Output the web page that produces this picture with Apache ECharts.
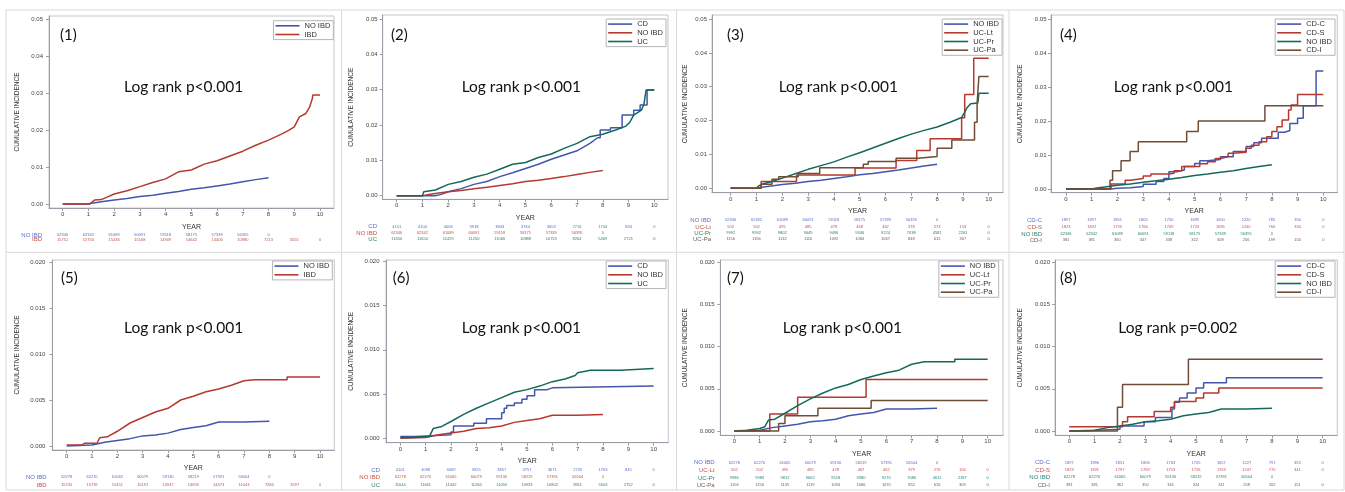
<!DOCTYPE html>
<html><head><meta charset="utf-8">
<script src="https://cdn.jsdelivr.net/npm/echarts@6/dist/echarts.min.js"></script>
<style>html,body{margin:0;padding:0;background:#fff}#c{width:1345px;height:492px}</style>
</head><body><div id="c"></div><script>
// ---------- DATA ----------
const YEARS = [0,1,2,3,4,5,6,7,8,9,10];
const Y_TICKS_TOP = [0,0.01,0.02,0.03,0.04,0.05];
const Y_TICKS_BOTTOM = [0,0.005,0.01,0.015,0.02];

// top row curves (0.05 scale)
const NOIBD_TOP = [[0,0],[1,0],[1.2,0.0003],[1.5,0.0006],[2,0.0011],[2.5,0.0015],[3,0.002],[3.5,0.0024],[4,0.0029],[4.5,0.0034],[5,0.004],[5.5,0.0044],[6,0.0049],[6.5,0.0054],[7,0.006],[7.5,0.0066],[8,0.0071]];
const P1_IBD = [[0,0],[1.05,0],[1.15,0.0006],[1.25,0.0011],[1.5,0.0012],[1.7,0.0018],[2,0.0027],[2.5,0.0036],[3,0.0047],[3.5,0.0058],[4,0.0068],[4.5,0.0087],[5,0.0092],[5.5,0.0108],[6,0.0117],[6.5,0.013],[7,0.0143],[7.5,0.0159],[8,0.0173],[8.5,0.0189],[8.8,0.02],[9,0.0209],[9.2,0.0236],[9.45,0.0245],[9.6,0.0263],[9.7,0.0285],[9.72,0.0295],[10,0.0295]];
const P2_CD = [[0,0],[1.5,0],[1.7,0.0003],[2,0.0011],[2.5,0.002],[3,0.0032],[3.5,0.004],[4,0.0054],[4.5,0.0065],[5,0.0077],[5.5,0.0089],[6,0.0103],[6.5,0.0115],[7,0.0127],[7.5,0.0148],[7.8,0.0164],[7.9,0.0164],[7.9,0.0186],[8.3,0.0186],[8.3,0.0192],[8.75,0.0192],[8.75,0.0228],[9.2,0.0228],[9.2,0.0242],[9.45,0.0242],[9.45,0.0257],[9.72,0.0257],[9.72,0.0299],[10,0.0299]];
const P2_UC = [[0,0],[1,0],[1.05,0.0011],[1.5,0.0016],[2,0.0032],[2.5,0.004],[3,0.0052],[3.5,0.0061],[4,0.0075],[4.5,0.0089],[5,0.0094],[5.5,0.0108],[6,0.0118],[6.5,0.0134],[7,0.0148],[7.5,0.0167],[8,0.0174],[8.5,0.0186],[8.9,0.0197],[9.05,0.0208],[9.2,0.0228],[9.5,0.0242],[9.6,0.026],[9.68,0.0299],[10,0.0299]];
const P3_UCLT = [[0,0],[1.18,0.002],[2.55,0.0039],[4.82,0.006],[6.41,0.0082],[7.21,0.0112],[7.73,0.0146],[8.95,0.0208],[9.07,0.0277],[9.42,0.0384],[10,0.0384]];
const P3_UCPR = [[0,0],[1,0],[1.1,0.0008],[1.3,0.0014],[1.6,0.002],[2,0.003],[2.5,0.0043],[3,0.0056],[3.5,0.0067],[4,0.0078],[4.5,0.0092],[5,0.0105],[5.5,0.0119],[6,0.0133],[6.5,0.0147],[7,0.016],[7.5,0.0171],[8,0.0181],[8.5,0.0195],[8.95,0.0209],[9.05,0.0222],[9.15,0.0237],[9.3,0.025],[9.58,0.0252],[9.62,0.0281],[10,0.0281]];
const P3_UCPA = [[0,0],[1.18,0.0012],[1.6,0.0027],[1.86,0.0034],[2.62,0.0044],[3.45,0.0061],[5.14,0.0071],[5.33,0.0079],[6.41,0.0089],[7.27,0.0094],[8.0,0.0118],[8.57,0.0143],[9.45,0.0195],[9.55,0.0251],[9.62,0.033],[10,0.033]];
const P4_CDC = [[0,0],[1.75,0.0002],[2,0.0004],[2.5,0.0007],[3,0.0014],[3.5,0.0022],[3.8,0.0031],[4,0.0051],[4.3,0.0056],[4.6,0.0066],[5,0.0075],[5.2,0.0083],[5.5,0.0087],[6,0.0095],[6.5,0.011],[7,0.0125],[7.3,0.0136],[7.6,0.0149],[8.25,0.0167],[8.5,0.0172],[8.7,0.0193],[9.0,0.0208],[9.22,0.0245],[9.72,0.0347],[10,0.0347]];
const P4_CDS = [[0,0],[1.75,0.0015],[2.3,0.0026],[2.5,0.0031],[3,0.0038],[3.3,0.0044],[4,0.0046],[4.2,0.0054],[4.5,0.0066],[5.2,0.0074],[5.5,0.008],[5.8,0.009],[6,0.0095],[6.3,0.0105],[6.5,0.0108],[7,0.012],[7.2,0.0129],[7.5,0.0139],[7.8,0.0154],[8.0,0.0169],[8.2,0.0183],[8.4,0.0203],[8.65,0.0232],[8.75,0.0247],[9.0,0.0278],[10,0.0278]];
const P4_CDI = [[0,0],[1.71,0.0026],[1.81,0.0054],[2.14,0.0083],[2.49,0.011],[2.81,0.0139],[4.69,0.0169],[5.14,0.02],[7.73,0.0245],[10,0.0245]];

// bottom row curves (0.020 scale)
const NOIBD_BOTTOM = [[0,0],[1,0.0001],[1.5,0.0004],[2,0.0006],[2.5,0.0008],[3,0.0011],[3.5,0.0012],[4,0.0014],[4.5,0.0018],[5,0.002],[5.5,0.0022],[6,0.0026],[7,0.0026],[8,0.0027]];
const P5_IBD = [[0,0.0001],[0.6,0.0001],[0.7,0.0003],[1.2,0.0003],[1.3,0.0009],[1.6,0.001],[2,0.0016],[2.5,0.0025],[3,0.0031],[3.5,0.0037],[4,0.0041],[4.5,0.005],[5,0.0054],[5.5,0.0059],[6,0.0062],[6.5,0.0066],[7,0.0071],[7.4,0.0072],[8.7,0.0072],[8.7,0.0075],[10,0.0075]];
const P6_CD = [[0,0.0002],[0.6,0.0004],[2,0.0007],[2.1,0.0014],[2.9,0.0017],[3.4,0.0022],[4.0,0.0029],[4.1,0.0034],[4.2,0.0037],[4.5,0.004],[4.8,0.0044],[5.0,0.0048],[5.3,0.0055],[5.8,0.0057],[6.0,0.0059],[10,0.0059]];
const P6_UC = [[0,0.0001],[0.5,0.0001],[0.55,0.0002],[1.15,0.0002],[1.2,0.0005],[1.3,0.0011],[1.6,0.0013],[2,0.0019],[2.5,0.0027],[3,0.0034],[3.5,0.004],[4,0.0046],[4.5,0.0052],[5,0.0055],[5.5,0.0059],[6,0.0064],[6.5,0.0067],[6.9,0.0071],[7,0.0074],[7.5,0.0077],[8.7,0.0077],[8.7,0.0079],[10,0.0079]];
const P7_UCLT = [[0,0],[1.4,0.002],[2.5,0.004],[5.2,0.0061],[10,0.0061]];
const P7_UCPR = [[0,0],[0.5,0.0001],[1,0.0003],[1.2,0.0005],[1.35,0.0013],[1.6,0.0014],[2,0.0021],[2.5,0.003],[3,0.0038],[3.5,0.0045],[4,0.0051],[4.5,0.0055],[5,0.0061],[5.5,0.0065],[6,0.0069],[6.5,0.0072],[7,0.0079],[7.5,0.0082],[8.7,0.0082],[8.7,0.0085],[10,0.0085]];
const P7_UCPA = [[0,0],[1.75,0.0009],[2.0,0.0018],[3.3,0.0027],[5.4,0.0036],[10,0.0036]];
const P8_CDC = [[0,0],[0.6,0.0002],[2.0,0.0006],[2.95,0.0011],[3.4,0.0016],[4.05,0.0026],[4.15,0.0034],[4.35,0.0039],[4.65,0.0045],[5.0,0.0051],[5.3,0.0057],[6.2,0.0063],[10,0.0063]];
const P8_CDS = [[0,0.0005],[2.1,0.0011],[2.3,0.0017],[3.35,0.0023],[4.0,0.0028],[4.15,0.0035],[5.0,0.0039],[5.3,0.0045],[5.9,0.0051],[10,0.0051]];
const P8_CDI = [[0,0],[1.9,0.0028],[2.1,0.0055],[4.7,0.0085],[10,0.0085]];

// numbers at risk
const R1_NOIBD = [62346,62342,61089,60091,59118,58175,57339,56395,0];
const R1_IBD = [15751,15750,15436,15168,14909,14642,14406,10980,7213,3555,0];
const R2_CD = [4101,4100,4006,3918,3843,3764,3653,2716,1744,834,0];
const R2_UC = [11650,11650,11429,11250,11066,10888,10753,8264,5469,2721,0];
const R3_UCLT = [502,502,495,485,478,468,462,378,273,153,0];
const R3_UCPR = [9992,9992,9802,9649,9496,9346,9224,7038,4581,2261,0];
const R3_UCPA = [1156,1156,1132,1116,1092,1084,1067,848,615,307,0];
const R4_CDC = [1897,1897,1851,1805,1756,1699,1650,1220,785,350,0];
const R4_CDS = [1823,1822,1795,1766,1749,1723,1695,1240,760,334,0];
const R4_CDI = [381,381,360,347,338,322,308,256,199,150,0];
const R5_NOIBD = [62278,62270,61065,60079,59130,58219,57391,56504,0];
const R5_IBD = [15745,15739,15451,15191,14947,14690,14473,11043,7266,3597,0];
const R6_CD = [4101,4098,4009,3925,3857,3757,3671,2732,1763,845,0];
const R6_UC = [11644,11641,11442,11266,11090,10933,10802,8311,5503,2752,0];
const R7_UCLT = [502,502,495,485,478,467,462,379,276,156,0];
const R7_UCPR = [9986,9983,9812,9662,9518,9380,9270,7080,4611,2287,0];
const R7_UCPA = [1156,1156,1135,1119,1094,1086,1070,852,616,309,0];
const R8_CDC = [1897,1896,1851,1806,1763,1705,1657,1227,791,353,0];
const R8_CDS = [1823,1821,1797,1769,1753,1726,1703,1247,770,341,0];
const R8_CDI = [381,381,361,350,341,324,311,258,202,151,0];

const TAGS = ['(1)','(2)','(3)','(4)','(5)','(6)','(7)','(8)'];
const LOGRANK = ['Log rank p<0.001','Log rank p<0.001','Log rank p<0.001','Log rank p<0.001','Log rank p<0.001','Log rank p<0.001','Log rank p<0.001','Log rank p=0.002'];

// ---------- PANEL DEFINITIONS ----------
const PANELS = [
 {yMax:0.05, yTicks:Y_TICKS_TOP, dec:2,
  series:[{name:'NO IBD',data:NOIBD_TOP,color:'blue'},{name:'IBD',data:P1_IBD,color:'red'}],
  risk:[{name:'NO IBD',values:R1_NOIBD,color:'blue'},{name:'IBD',values:R1_IBD,color:'red'}]},
 {yMax:0.05, yTicks:Y_TICKS_TOP, dec:2,
  series:[{name:'CD',data:P2_CD,color:'blue'},{name:'NO IBD',data:NOIBD_TOP,color:'red'},{name:'UC',data:P2_UC,color:'green'}],
  risk:[{name:'CD',values:R2_CD,color:'blue'},{name:'NO IBD',values:R1_NOIBD,color:'red'},{name:'UC',values:R2_UC,color:'green'}]},
 {yMax:0.05, yTicks:Y_TICKS_TOP, dec:2,
  series:[{name:'NO IBD',data:NOIBD_TOP,color:'blue'},{name:'UC-Lt',data:P3_UCLT,color:'red',step:true},{name:'UC-Pr',data:P3_UCPR,color:'green'},{name:'UC-Pa',data:P3_UCPA,color:'brown',step:true}],
  risk:[{name:'NO IBD',values:R1_NOIBD,color:'blue'},{name:'UC-Lt',values:R3_UCLT,color:'red'},{name:'UC-Pr',values:R3_UCPR,color:'green'},{name:'UC-Pa',values:R3_UCPA,color:'brown'}]},
 {yMax:0.05, yTicks:Y_TICKS_TOP, dec:2,
  series:[{name:'CD-C',data:P4_CDC,color:'blue',step:true},{name:'CD-S',data:P4_CDS,color:'red',step:true},{name:'NO IBD',data:NOIBD_TOP,color:'green'},{name:'CD-I',data:P4_CDI,color:'brown',step:true}],
  risk:[{name:'CD-C',values:R4_CDC,color:'blue'},{name:'CD-S',values:R4_CDS,color:'red'},{name:'NO IBD',values:R1_NOIBD,color:'green'},{name:'CD-I',values:R4_CDI,color:'brown'}]},
 {yMax:0.02, yTicks:Y_TICKS_BOTTOM, dec:3,
  series:[{name:'NO IBD',data:NOIBD_BOTTOM,color:'blue'},{name:'IBD',data:P5_IBD,color:'red'}],
  risk:[{name:'NO IBD',values:R5_NOIBD,color:'blue'},{name:'IBD',values:R5_IBD,color:'red'}]},
 {yMax:0.02, yTicks:Y_TICKS_BOTTOM, dec:3,
  series:[{name:'CD',data:P6_CD,color:'blue',step:true},{name:'NO IBD',data:NOIBD_BOTTOM,color:'red'},{name:'UC',data:P6_UC,color:'green'}],
  risk:[{name:'CD',values:R6_CD,color:'blue'},{name:'NO IBD',values:R5_NOIBD,color:'red'},{name:'UC',values:R6_UC,color:'green'}]},
 {yMax:0.02, yTicks:Y_TICKS_BOTTOM, dec:3,
  series:[{name:'NO IBD',data:NOIBD_BOTTOM,color:'blue'},{name:'UC-Lt',data:P7_UCLT,color:'red',step:true},{name:'UC-Pr',data:P7_UCPR,color:'green'},{name:'UC-Pa',data:P7_UCPA,color:'brown',step:true}],
  risk:[{name:'NO IBD',values:R5_NOIBD,color:'blue'},{name:'UC-Lt',values:R7_UCLT,color:'red'},{name:'UC-Pr',values:R7_UCPR,color:'green'},{name:'UC-Pa',values:R7_UCPA,color:'brown'}]},
 {yMax:0.02, yTicks:Y_TICKS_BOTTOM, dec:3,
  series:[{name:'CD-C',data:P8_CDC,color:'blue',step:true},{name:'CD-S',data:P8_CDS,color:'red',step:true},{name:'NO IBD',data:NOIBD_BOTTOM,color:'green'},{name:'CD-I',data:P8_CDI,color:'brown',step:true}],
  risk:[{name:'CD-C',values:R8_CDC,color:'blue'},{name:'CD-S',values:R8_CDS,color:'red'},{name:'NO IBD',values:R5_NOIBD,color:'green'},{name:'CD-I',values:R8_CDI,color:'brown'}]}
];

// ---------- LAYOUT (pixels) ----------
const GEOM = [
 {L:49,T:16,R:334,B:208,x0:62.7,x10:320,y0:204,yT:19.3,yearY:227,rows:[235,239.5],yNameX:17,yLabM:6,rowGap:7,legR:1011.7,legT:20.7,tag:[60,35],lr:[124,87]},
 {L:382.7,T:15,R:668,B:199.3,x0:396.7,x10:654.3,y0:195.7,yT:19,yearY:218,rows:[226.7,233.3,239],yNameX:351,yLabM:5,rowGap:5.7,legR:679,legT:19,tag:[391,35],lr:[461.7,87]},
 {L:712,T:15,R:1003,B:192.7,x0:730.7,x10:988.7,y0:188.3,yT:19,yearY:210.7,rows:[220,227.3,233.3,239.3],yNameX:685,yLabM:5,rowGap:1,legR:343,legT:19,tag:[727,35],lr:[778.7,87]},
 {L:1051,T:15,R:1337.3,B:192.7,x0:1066,x10:1323.3,y0:189,yT:19,yearY:211,rows:[220,227.3,234,240],yNameX:1020,yLabM:4.5,rowGap:9,legR:10,legT:19,tag:[1060,35],lr:[1113.7,87]},
 {L:52.3,T:260,R:334.3,B:450,x0:66.7,x10:320,y0:446,yT:262,yearY:468.3,rows:[477,485],yNameX:17.3,yLabM:7,rowGap:5.6,legR:1012.7,legT:261,tag:[61,278.3],lr:[124,327.7]},
 {L:386,T:260,R:668.3,B:442.7,x0:400.3,x10:653.7,y0:438.3,yT:261.3,yearY:461,rows:[470.3,477.3,485],yNameX:351,yLabM:6.5,rowGap:6,legR:679,legT:261,tag:[392.7,278],lr:[461.7,328]},
 {L:720.3,T:260,R:1003,B:435.3,x0:734.3,x10:987.7,y0:431,yT:262,yearY:453.7,rows:[462.7,470.3,478,485.3],yNameX:685.3,yLabM:5.6,rowGap:5.6,legR:346.3,legT:261,tag:[727,278],lr:[782.7,327.7]},
 {L:1055,T:260,R:1337.3,B:435.3,x0:1069.3,x10:1322.7,y0:431,yT:262,yearY:453.7,rows:[462.7,470.3,477.3,485],yNameX:1020,yLabM:5,rowGap:5,legR:10,legT:261,tag:[1060,278],lr:[1118.3,328]}
];

const COLORS = {blue:'#4356ad', red:'#b5392f', green:'#13695b', brown:'#6f4d37'};
const RISK_COLORS = {blue:'#5b6cc4', red:'#c25148', green:'#2a8171', brown:'#7a5a44'};
const AXIS_COLOR = '#9a9ea6';
const FRAME_COLOR = '#c3c6cc';
const FONT = 'Liberation Sans, Arial, sans-serif';
const BIG_FONT = 'Lato, Open Sans, sans-serif';

const grid=[], xAxis=[], yAxis=[], series=[], legend=[], title=[];
PANELS.forEach((p, i) => {
  const g = GEOM[i];
  const xs = (g.x10 - g.x0) / 10;
  const ys = (g.y0 - g.yT) / p.yMax;
  const xmin = -(g.x0 - g.L) / xs, xmax = 10 + (g.R - g.x10) / xs;
  const ymin = -(g.B - g.y0) / ys, ymaxA = p.yMax + (g.yT - g.T) / ys;
  grid.push({left:g.L, top:g.T, width:g.R-g.L, height:g.B-g.T, show:true, borderColor:FRAME_COLOR, borderWidth:1, backgroundColor:'transparent', containLabel:false});
  const mainX = xAxis.length;
  xAxis.push({gridIndex:i, type:'value', min:xmin, max:xmax, position:'bottom',
    axisLine:{show:true, onZero:false, lineStyle:{color:AXIS_COLOR, width:1}},
    axisTick:{show:true, customValues:YEARS, length:3, lineStyle:{color:AXIS_COLOR}},
    axisLabel:{customValues:YEARS, fontSize:6, margin:3.5, color:'#444', fontFamily:FONT},
    splitLine:{show:false},
    name:'YEAR', nameLocation:'middle', nameGap:g.yearY-g.B-3.5,
    nameTextStyle:{fontSize:7, color:'#333', fontFamily:FONT}});
  p.risk.forEach((r, k) => {
    xAxis.push({gridIndex:i, type:'value', min:xmin, max:xmax, position:'bottom', offset:g.rows[k]-g.B,
      axisLine:{show:false, onZero:false}, axisTick:{show:false}, splitLine:{show:false},
      axisLabel:{customValues:YEARS, margin:0, verticalAlign:'middle', fontSize:4, color:RISK_COLORS[r.color], fontFamily:FONT,
        formatter:(v) => { const s = r.values[Math.round(v)]; return s === undefined ? '' : String(s); }},
      name:r.name, nameLocation:'start', nameGap:g.rowGap,
      nameTextStyle:{fontSize:6, color:RISK_COLORS[r.color], align:'right', verticalAlign:'middle', fontFamily:FONT}});
  });
  yAxis.push({gridIndex:i, type:'value', min:ymin, max:ymaxA, position:'left',
    axisLine:{show:true, onZero:false, lineStyle:{color:AXIS_COLOR}},
    axisTick:{show:true, customValues:p.yTicks, length:3, lineStyle:{color:AXIS_COLOR}},
    axisLabel:{customValues:p.yTicks, formatter:(v) => v.toFixed(p.dec), fontSize:6, margin:g.yLabM, color:'#444', fontFamily:FONT},
    splitLine:{show:false},
    name:'CUMULATIVE INCIDENCE', nameLocation:'middle', nameRotate:90, nameGap:g.L-g.yNameX-3.5,
    nameTextStyle:{fontSize:6.5, color:'#333', fontFamily:FONT}});
  const names = [];
  p.series.forEach(s => {
    const nm = s.name + '|' + (i+1);
    names.push(nm);
    series.push({type:'line', name:nm, xAxisIndex:mainX, yAxisIndex:i, data:s.data,
      step:s.step ? 'end' : false, symbol:'none', showSymbol:false, color:COLORS[s.color],
      lineStyle:{width:1.5, color:COLORS[s.color]}, animation:false, silent:true, z:3});
  });
  legend.push({show:true, orient:'vertical', right:g.legR, top:g.legT, data:names,
    formatter:(n) => n.split('|')[0], icon:'rect', itemWidth:24, itemHeight:1.6, itemGap:0.5,
    padding:[1,3,1,2], borderColor:'#b5b5b5', borderWidth:1, backgroundColor:'#fff', selectedMode:false,
    textStyle:{fontSize:7.5, lineHeight:8.2, color:'#333', fontFamily:FONT}});
  title.push({text:TAGS[i], left:g.tag[0], top:g.tag[1]-9, padding:0,
    textStyle:{fontSize:15, lineHeight:18, fontWeight:'normal', fontFamily:BIG_FONT, color:'#111'}});
  title.push({text:LOGRANK[i], left:g.lr[0], top:g.lr[1]-9.5, padding:0,
    textStyle:{fontSize:15.5, lineHeight:19, fontWeight:'normal', fontFamily:BIG_FONT, color:'#111'}});
});

const SEP = '#dadada';
const graphic = [
  {type:'rect', shape:{x:6, y:10, width:1338, height:480}, style:{fill:'none', stroke:SEP, lineWidth:1}, silent:true},
  {type:'line', shape:{x1:341.5, y1:10, x2:341.5, y2:490}, style:{stroke:SEP, lineWidth:1}, silent:true},
  {type:'line', shape:{x1:676.5, y1:10, x2:676.5, y2:490}, style:{stroke:SEP, lineWidth:1}, silent:true},
  {type:'line', shape:{x1:1009, y1:10, x2:1009, y2:490}, style:{stroke:SEP, lineWidth:1}, silent:true},
  {type:'line', shape:{x1:6, y1:252.3, x2:1344, y2:252.3}, style:{stroke:SEP, lineWidth:1}, silent:true}
];

const chart = echarts.init(document.getElementById('c'), null, {renderer:'canvas'});
chart.setOption({backgroundColor:'#fff', animation:false, grid, xAxis, yAxis, series, legend, title, graphic});
</script></body></html>
